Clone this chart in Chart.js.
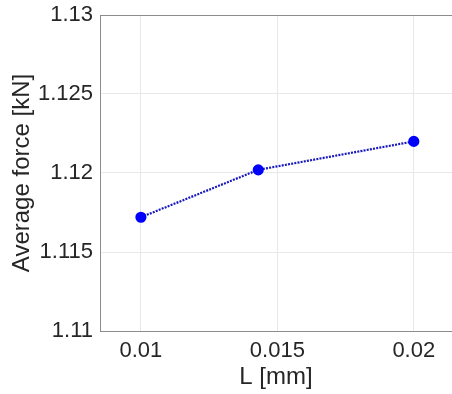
<!DOCTYPE html>
<html>
    <head>
        <meta charset="UTF-8" />
        <title> Average force </title>
        <style type="text/css">
            html, body { margin: 0; padding: 0; background: #fff; }
            .chartBox { width: 452px; height: 394px; }
        </style>
    </head>
    <body>
        <div class="chartBox">
            <canvas id="myChart"></canvas>
        </div>

        <script src="https://cdn.jsdelivr.net/npm/chart.js"></script>
        <script>
        //data
        const lengths = [0.01, 0.0143, 0.02];
        const forces = [1.1172, 1.1202, 1.1220];
        const xTicks = [0.01, 0.015, 0.02];
        const yTicks = [1.11, 1.115, 1.12, 1.125, 1.13];

        const font = 'Liberation Sans, Arial, Helvetica, sans-serif';
        const axisColor = '#8c8c8c';
        const gridColor = '#e8e8e8';

        //config
        const config = {
            type: 'line',
            data: {
                datasets: [{
                    label: 'Average force',
                    data: lengths.map((x, i) => ({ x: x, y: forces[i] })),
                    borderColor: '#1818c0',
                    borderWidth: 2.2,
                    borderDash: [2, 1.2],
                    pointBackgroundColor: '#0000ff',
                    pointBorderColor: '#0000ff',
                    pointRadius: 4.5,
                    tension: 0
                }]
            },
            options: {
                responsive: false,
                animation: false,
                layout: { autoPadding: false, padding: { top: 15, left: 0, right: 0, bottom: 0 } },
                plugins: {
                    legend: { display: false },
                    tooltip: { enabled: false }
                },
                scales: {
                    x: {
                        type: 'linear',
                        min: 0.0085,
                        max: 0.0214,
                        afterBuildTicks: (s) => { s.ticks = xTicks.map(v => ({ value: v })); },
                        afterFit: (s) => { s.height = 63; s.paddingLeft = 0; s.paddingRight = 0; },
                        grid: { color: gridColor, drawTicks: false },
                        border: { color: axisColor, width: 1 },
                        ticks: {
                            padding: 7,
                            color: '#262626',
                            font: { family: font, size: 22 },
                            callback: (v) => String(v)
                        },
                        title: {
                            display: true,
                            text: 'L [mm]',
                            color: '#262626',
                            font: { family: font, size: 24 },
                            padding: { top: 0, bottom: 2 }
                        }
                    },
                    y: {
                        min: 1.11,
                        max: 1.13,
                        afterBuildTicks: (s) => { s.ticks = yTicks.map(v => ({ value: v })); },
                        afterFit: (s) => { s.width = 100; s.paddingTop = 0; s.paddingBottom = 0; },
                        grid: {
                            color: (c) => c.tick && c.tick.value === 1.13 ? axisColor : gridColor,
                            drawTicks: false
                        },
                        border: { color: axisColor, width: 1 },
                        ticks: {
                            padding: 7,
                            color: '#262626',
                            font: { family: font, size: 22 },
                            callback: (v) => String(v)
                        },
                        title: {
                            display: true,
                            text: 'Average force [kN]',
                            color: '#262626',
                            font: { family: font, size: 24 },
                            padding: { top: 8, bottom: 0 }
                        }
                    }
                }
            }
        };

        //render
        const canvas = document.getElementById('myChart');
        canvas.width = 452;
        canvas.height = 394;
        const myChart = new Chart(canvas, config);
        </script>
    </body>
</html>
